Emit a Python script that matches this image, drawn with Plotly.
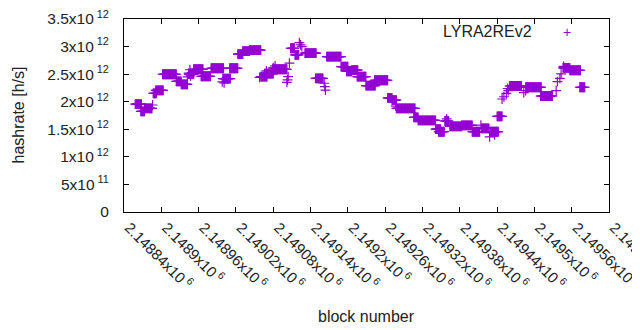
import plotly.graph_objects as go

# Constant-hashrate runs: (first block, last block, hashrate in 1e12 h/s)
run_start = [2148858, 2148867, 2148873, 2148887, 2148891, 2148902, 2148924, 2148932, 2148944,
             2148952, 2148964, 2148980, 2148999, 2149010, 2149023, 2149031, 2149042, 2149060,
             2149066, 2149079, 2149108, 2149115, 2149131, 2149148, 2149166, 2149189, 2149198,
             2149206, 2149215, 2149229, 2149243, 2149264, 2149271, 2149278, 2149306, 2149313,
             2149341, 2149346, 2149356, 2149364, 2149383, 2149400, 2149415, 2149429, 2149440,
             2149460, 2149486, 2149510, 2149546, 2149557, 2149573]
run_end = [2148868, 2148873, 2148885, 2148892, 2148903, 2148924, 2148932, 2148942, 2148952,
           2148967, 2148979, 2149000, 2149011, 2149023, 2149031, 2149042, 2149060, 2149070,
           2149080, 2149102, 2149114, 2149121, 2149149, 2149160, 2149189, 2149200, 2149206,
           2149216, 2149229, 2149244, 2149264, 2149271, 2149278, 2149308, 2149313, 2149341,
           2149349, 2149355, 2149362, 2149383, 2149400, 2149412, 2149427, 2149442, 2149448,
           2149479, 2149511, 2149529, 2149557, 2149574, 2149581]
run_hashrate = [1.958, 1.825, 1.88, 2.15, 2.207, 2.498, 2.37, 2.316, 2.50,
                2.589, 2.462, 2.607, 2.418, 2.607, 2.862, 2.916, 2.934, 2.455,
                2.51, 2.589, 2.97, 2.85, 2.88, 2.425, 2.818, 2.636, 2.55,
                2.573, 2.455, 2.29, 2.389, 2.07, 2.03, 1.88, 1.716, 1.662,
                1.504, 1.455, 1.65, 1.553, 1.571, 1.455, 1.516, 1.455, 1.735,
                2.285, 2.262, 2.104, 2.613, 2.571, 2.262]

# Isolated points: block number and hashrate in 1e12 h/s
single_block = [2148886, 2148942, 2148944, 2148946, 2148947, 2148998, 2149001, 2149058,
                2149069, 2149080, 2149083, 2149102, 2149103, 2149104, 2149106, 2149122,
                2149124, 2149126, 2149162, 2149163, 2149164, 2149277, 2149359, 2149414,
                2149428, 2149436, 2149448, 2149451, 2149455, 2149457, 2149458, 2149483,
                2149486, 2149535, 2149537, 2149541, 2149543, 2149547]
single_hashrate = [1.94, 2.45, 2.52, 2.58, 2.47, 2.36, 2.34, 2.44,
                   2.56, 2.62, 2.65, 2.35, 2.395, 2.455, 2.698, 3.07,
                   3.03, 3.0, 2.335, 2.273, 2.21, 1.92, 1.69, 1.576,
                   1.364, 1.40, 2.049, 2.09, 2.153, 2.24, 2.2, 2.164,
                   2.2, 2.2, 2.364, 2.425, 2.504, 2.64]

y_tick_vals = [0, 0.5e12, 1.0e12, 1.5e12, 2.0e12, 2.5e12, 3.0e12, 3.5e12]
y_tick_text = ["0", "5x10<sup> 11</sup>", "1x10<sup> 12</sup>", "1.5x10<sup> 12</sup>",
               "2x10<sup> 12</sup>", "2.5x10<sup> 12</sup>", "3x10<sup> 12</sup>",
               "3.5x10<sup> 12</sup>"]
x_tick_vals = [2148840, 2148900, 2148960, 2149020, 2149080, 2149140, 2149200,
               2149260, 2149320, 2149380, 2149440, 2149500, 2149560, 2149620]
x_tick_text = ["2.14884x10<sup> 6</sup>", "2.1489x10<sup> 6</sup>", "2.14896x10<sup> 6</sup>",
               "2.14902x10<sup> 6</sup>", "2.14908x10<sup> 6</sup>", "2.14914x10<sup> 6</sup>",
               "2.1492x10<sup> 6</sup>", "2.14926x10<sup> 6</sup>", "2.14932x10<sup> 6</sup>",
               "2.14938x10<sup> 6</sup>", "2.14944x10<sup> 6</sup>", "2.1495x10<sup> 6</sup>",
               "2.14956x10<sup> 6</sup>", "2.14962x10<sup> 6</sup>"]

xs, ys = [], []
for s, e, h in zip(run_start, run_end, run_hashrate):
    for b in range(s, e + 1):
        xs.append(b)
        ys.append(h * 1e12)
for b, h in zip(single_block, single_hashrate):
    xs.append(b)
    ys.append(h * 1e12)

PURPLE = "#9400D3"
FONT = "Liberation Sans, Arial, sans-serif"
TXT = "#222"

fig = go.Figure()
fig.add_trace(go.Scatter(
    x=xs, y=ys, mode="markers", name="LYRA2REv2",
    marker=dict(symbol="cross-thin", size=7, color=PURPLE,
                line=dict(color=PURPLE, width=1.2)),
    showlegend=False,
))

axis_common = dict(
    showline=True, linecolor="black", linewidth=1, mirror="allticks",
    ticks="inside", ticklen=5, tickcolor="black", tickwidth=1,
    showgrid=False, zeroline=False, automargin=False,
    ticklabeloverflow="allow",
)
fig.update_xaxes(range=[2148840, 2149620], tickvals=x_tick_vals, ticktext=x_tick_text,
                 tickangle=45, ticklabelstandoff=0, ticklabelshift=5,
                 tickfont=dict(family=FONT, size=15, color=TXT), **axis_common)
fig.update_yaxes(range=[0, 3.5e12], tickvals=y_tick_vals, ticktext=y_tick_text,
                 ticklabelstandoff=11,
                 tickfont=dict(family=FONT, size=15.5, color=TXT), **axis_common)

# page body adds an 8px offset, so the figure is 632x322
fig.update_layout(
    width=632, height=322,
    margin=dict(l=116, r=31, t=11, b=118, autoexpand=False),
    plot_bgcolor="white", paper_bgcolor="white",
    font=dict(family=FONT, size=15, color=TXT),
    annotations=[
        dict(text="hashrate [h/s]", xref="paper", yref="paper", x=0, y=0.5,
             xshift=-106, textangle=-90, showarrow=False, xanchor="center", yanchor="middle",
             font=dict(family=FONT, size=16, color=TXT)),
        dict(text="block number", xref="paper", yref="paper", x=0.5, y=0,
             yshift=-104, showarrow=False, xanchor="center", yanchor="middle",
             font=dict(family=FONT, size=16, color=TXT)),
        dict(text="LYRA2REv2", xref="paper", yref="paper", x=0.846, y=0.934,
             showarrow=False, xanchor="right", yanchor="middle",
             font=dict(family=FONT, size=16, color=TXT)),
        dict(text="+", xref="paper", yref="paper", x=0.913, y=0.934,
             showarrow=False, xanchor="center", yanchor="middle",
             font=dict(family=FONT, size=14, color=PURPLE)),
    ],
)

fig.write_html("out.html")
